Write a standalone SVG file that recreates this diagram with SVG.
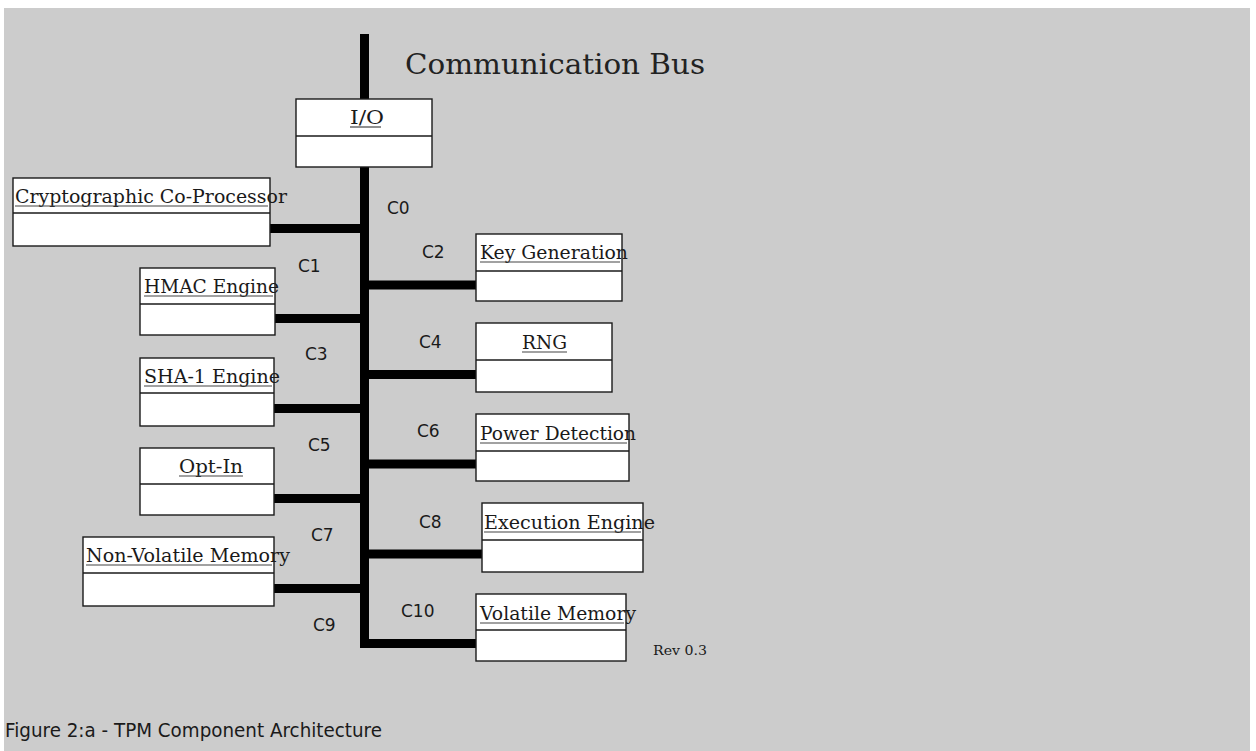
<svg xmlns="http://www.w3.org/2000/svg" width="1256" height="751" viewBox="0 0 1256 751">
  <style>
    .box { fill: #ffffff; stroke: #1a1a1a; stroke-width: 1.4; }
    .div { stroke: #1a1a1a; stroke-width: 1.4; }
    .lbl { font-family: "DejaVu Serif", "Liberation Serif", serif; font-size: 19px; fill: #1a1a1a; }
    .ul { stroke: #444; stroke-width: 1.2; }
    .cl { font-family: "DejaVu Sans", "Liberation Sans", sans-serif; font-size: 17px; fill: #1a1a1a; }
    .bus { stroke: #000; stroke-width: 9; fill: none; }
  </style>

  <rect x="0" y="0" width="1256" height="751" fill="#ffffff"/>
  <rect x="4" y="8" width="1246" height="743" fill="#cccccc"/>

  <text x="405" y="74" textLength="300" lengthAdjust="spacingAndGlyphs" font-family="DejaVu Serif, Liberation Serif, serif" font-size="28" fill="#222">Communication Bus</text>

  <g id="connectors">
    <line class="bus" x1="364.5" y1="34" x2="364.5" y2="648"/>
    <line class="bus" x1="270" y1="228.5" x2="364.5" y2="228.5"/>
    <line class="bus" x1="274" y1="318.5" x2="364.5" y2="318.5"/>
    <line class="bus" x1="274" y1="408.5" x2="364.5" y2="408.5"/>
    <line class="bus" x1="274" y1="498.5" x2="364.5" y2="498.5"/>
    <line class="bus" x1="274" y1="588.5" x2="364.5" y2="588.5"/>
    <line class="bus" x1="364.5" y1="285" x2="476" y2="285"/>
    <line class="bus" x1="364.5" y1="374.5" x2="476" y2="374.5"/>
    <line class="bus" x1="364.5" y1="464" x2="476" y2="464"/>
    <line class="bus" x1="364.5" y1="554" x2="482" y2="554"/>
    <line class="bus" x1="360" y1="643.5" x2="476" y2="643.5"/>
  </g>

  <g id="conn-labels">
    <text class="cl" x="387" y="214">C0</text>
    <text class="cl" x="298" y="272">C1</text>
    <text class="cl" x="422" y="258">C2</text>
    <text class="cl" x="305" y="360">C3</text>
    <text class="cl" x="419" y="348">C4</text>
    <text class="cl" x="308" y="451">C5</text>
    <text class="cl" x="417" y="437">C6</text>
    <text class="cl" x="311" y="541">C7</text>
    <text class="cl" x="419" y="528">C8</text>
    <text class="cl" x="313" y="631">C9</text>
    <text class="cl" x="401" y="617">C10</text>
  </g>

  <g id="io">
    <rect class="box" x="296" y="99" width="136" height="68"/>
    <line class="div" x1="296" y1="136" x2="432" y2="136"/>
    <text class="lbl" x="350" y="124" textLength="34" lengthAdjust="spacingAndGlyphs">I/O</text>
    <line class="ul" x1="350" y1="127" x2="381" y2="127"/>
  </g>

  <g id="crypto">
    <rect class="box" x="13" y="178" width="257" height="68"/>
    <line class="div" x1="13" y1="213" x2="270" y2="213"/>
    <text class="lbl" x="15" y="203" textLength="272" lengthAdjust="spacingAndGlyphs">Cryptographic Co-Processor</text>
    <line class="ul" x1="15" y1="206" x2="268" y2="206"/>
  </g>

  <g id="hmac">
    <rect class="box" x="140" y="268" width="135" height="67"/>
    <line class="div" x1="140" y1="304" x2="275" y2="304"/>
    <text class="lbl" x="144" y="293" textLength="135" lengthAdjust="spacingAndGlyphs">HMAC Engine</text>
    <line class="ul" x1="144" y1="296" x2="273" y2="296"/>
  </g>

  <g id="sha1">
    <rect class="box" x="140" y="358" width="134" height="68"/>
    <line class="div" x1="140" y1="393" x2="274" y2="393"/>
    <text class="lbl" x="144" y="383" textLength="136" lengthAdjust="spacingAndGlyphs">SHA-1 Engine</text>
    <line class="ul" x1="144" y1="386" x2="272" y2="386"/>
  </g>

  <g id="optin">
    <rect class="box" x="140" y="448" width="134" height="67"/>
    <line class="div" x1="140" y1="484" x2="274" y2="484"/>
    <text class="lbl" x="179" y="473" textLength="64" lengthAdjust="spacingAndGlyphs">Opt-In</text>
    <line class="ul" x1="179" y1="476" x2="243" y2="476"/>
  </g>

  <g id="nvm">
    <rect class="box" x="83" y="537" width="191" height="69"/>
    <line class="div" x1="83" y1="573" x2="274" y2="573"/>
    <text class="lbl" x="86" y="562" textLength="204" lengthAdjust="spacingAndGlyphs">Non-Volatile Memory</text>
    <line class="ul" x1="86" y1="565" x2="272" y2="565"/>
  </g>

  <g id="keygen">
    <rect class="box" x="476" y="234" width="146" height="67"/>
    <line class="div" x1="476" y1="271" x2="622" y2="271"/>
    <text class="lbl" x="480" y="259" textLength="148" lengthAdjust="spacingAndGlyphs">Key Generation</text>
    <line class="ul" x1="480" y1="262" x2="620" y2="262"/>
  </g>

  <g id="rng">
    <rect class="box" x="476" y="323" width="136" height="69"/>
    <line class="div" x1="476" y1="360" x2="612" y2="360"/>
    <text class="lbl" x="522" y="349" textLength="45" lengthAdjust="spacingAndGlyphs">RNG</text>
    <line class="ul" x1="522" y1="352" x2="567" y2="352"/>
  </g>

  <g id="power">
    <rect class="box" x="476" y="414" width="153" height="67"/>
    <line class="div" x1="476" y1="451" x2="629" y2="451"/>
    <text class="lbl" x="480" y="440" textLength="156" lengthAdjust="spacingAndGlyphs">Power Detection</text>
    <line class="ul" x1="480" y1="443" x2="627" y2="443"/>
  </g>

  <g id="exec">
    <rect class="box" x="482" y="503" width="161" height="69"/>
    <line class="div" x1="482" y1="540" x2="643" y2="540"/>
    <text class="lbl" x="484" y="529" textLength="171" lengthAdjust="spacingAndGlyphs">Execution Engine</text>
    <line class="ul" x1="484" y1="532" x2="641" y2="532"/>
  </g>

  <g id="volatile">
    <rect class="box" x="476" y="594" width="150" height="67"/>
    <line class="div" x1="476" y1="630" x2="626" y2="630"/>
    <text class="lbl" x="480" y="620" textLength="156" lengthAdjust="spacingAndGlyphs">Volatile Memory</text>
    <line class="ul" x1="480" y1="623" x2="624" y2="623"/>
  </g>

  <text x="653" y="655" textLength="54" lengthAdjust="spacingAndGlyphs" font-family="DejaVu Serif, Liberation Serif, serif" font-size="12" fill="#1a1a1a">Rev 0.3</text>

  <text x="5" y="737" textLength="377" lengthAdjust="spacingAndGlyphs" font-family="DejaVu Sans, Liberation Sans, sans-serif" font-size="20" fill="#1a1a1a">Figure 2:a - TPM Component Architecture</text>
</svg>
